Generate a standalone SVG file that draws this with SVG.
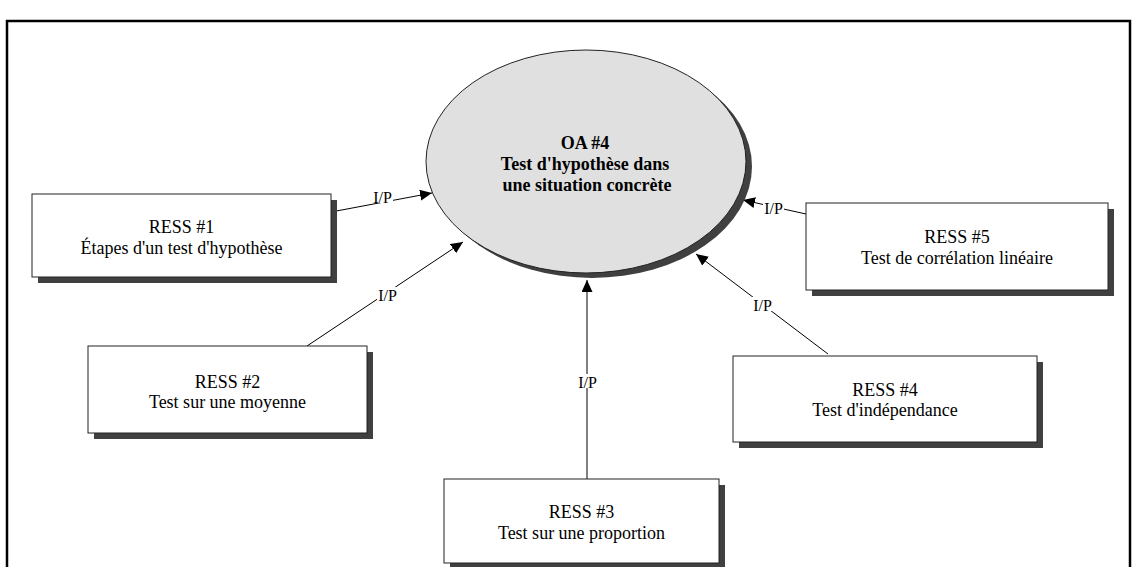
<svg xmlns="http://www.w3.org/2000/svg" width="1136" height="567" viewBox="0 0 1136 567">
  <defs>
    <marker id="arrow" markerUnits="userSpaceOnUse" markerWidth="13" markerHeight="12" refX="12" refY="5.5" orient="auto">
      <path d="M0,0 L12,5.5 L0,11 z" fill="#000"/>
    </marker>
    <style>
      .frame { fill: none; stroke: #000; stroke-width: 2.5; }
      .shadow { fill: #404040; }
      .box { fill: #fff; stroke: #222; stroke-width: 1; }
      .oval { fill: #e0e0e0; stroke: #222; stroke-width: 1; }
      .txt { font-family: "Liberation Serif", "Times New Roman", serif; font-size: 18px; fill: #000; text-anchor: middle; }
      .bold { font-weight: bold; }
      .link { stroke: #000; stroke-width: 1; fill: none; marker-end: url(#arrow); }
      .lbl { font-family: "Liberation Serif", "Times New Roman", serif; font-size: 16px; fill: #000; text-anchor: middle; }
      .lblbg { fill: #fff; }
    </style>
  </defs>

  <rect width="1136" height="567" fill="#fff"/>
  <!-- outer frame, open at the bottom -->
  <rect class="frame" x="7" y="21" width="1123" height="570"/>

  <!-- connectors -->
  <g id="connectors">
    <line class="link" x1="331" y1="212" x2="432" y2="193"/>
    <line class="link" x1="307" y1="346" x2="463" y2="242"/>
    <line class="link" x1="587" y1="479" x2="587" y2="280"/>
    <line class="link" x1="828" y1="354" x2="696" y2="254"/>
    <line class="link" x1="806" y1="214" x2="743" y2="200"/>

    <rect class="lblbg" x="372" y="189" width="21" height="14"/>
    <text class="lbl" x="382.5" y="202.5">I/P</text>
    <rect class="lblbg" x="377" y="287" width="21" height="14"/>
    <text class="lbl" x="387.5" y="300.5">I/P</text>
    <rect class="lblbg" x="577" y="374" width="21" height="14"/>
    <text class="lbl" x="587.5" y="387.5">I/P</text>
    <rect class="lblbg" x="752" y="297" width="21" height="14"/>
    <text class="lbl" x="762.5" y="310.5">I/P</text>
    <rect class="lblbg" x="763" y="200" width="21" height="14"/>
    <text class="lbl" x="773.5" y="213.5">I/P</text>
  </g>

  <!-- central objective -->
  <g id="oa4">
    <ellipse class="shadow" cx="592" cy="166.5" rx="160" ry="111.5"/>
    <ellipse class="oval" cx="586" cy="161.5" rx="160" ry="111.5"/>
    <text class="txt bold" x="585" y="149">OA #4</text>
    <text class="txt bold" x="585" y="170">Test d'hypothèse dans</text>
    <text class="txt bold" x="587" y="191">une situation concrète</text>
  </g>

  <g id="ress1">
    <rect class="shadow" x="38" y="200" width="299" height="83"/>
    <rect class="box" x="32" y="194" width="299" height="83"/>
    <text class="txt" x="181.5" y="233">RESS #1</text>
    <text class="txt" x="181.5" y="254">Étapes d'un test d'hypothèse</text>
  </g>

  <g id="ress2">
    <rect class="shadow" x="94" y="352" width="279" height="87"/>
    <rect class="box" x="88" y="346" width="279" height="87"/>
    <text class="txt" x="227.5" y="388">RESS #2</text>
    <text class="txt" x="227.5" y="408">Test sur une moyenne</text>
  </g>

  <g id="ress3">
    <rect class="shadow" x="450" y="485" width="275" height="84"/>
    <rect class="box" x="444" y="479" width="275" height="84"/>
    <text class="txt" x="581.5" y="518">RESS #3</text>
    <text class="txt" x="581.5" y="539">Test sur une proportion</text>
  </g>

  <g id="ress4">
    <rect class="shadow" x="739" y="362" width="304" height="86"/>
    <rect class="box" x="733" y="356" width="304" height="86"/>
    <text class="txt" x="885" y="396">RESS #4</text>
    <text class="txt" x="885" y="416">Test d'indépendance</text>
  </g>

  <g id="ress5">
    <rect class="shadow" x="812" y="209" width="302" height="87"/>
    <rect class="box" x="806" y="203" width="302" height="87"/>
    <text class="txt" x="957" y="243">RESS #5</text>
    <text class="txt" x="957" y="264">Test de corrélation linéaire</text>
  </g>
</svg>
